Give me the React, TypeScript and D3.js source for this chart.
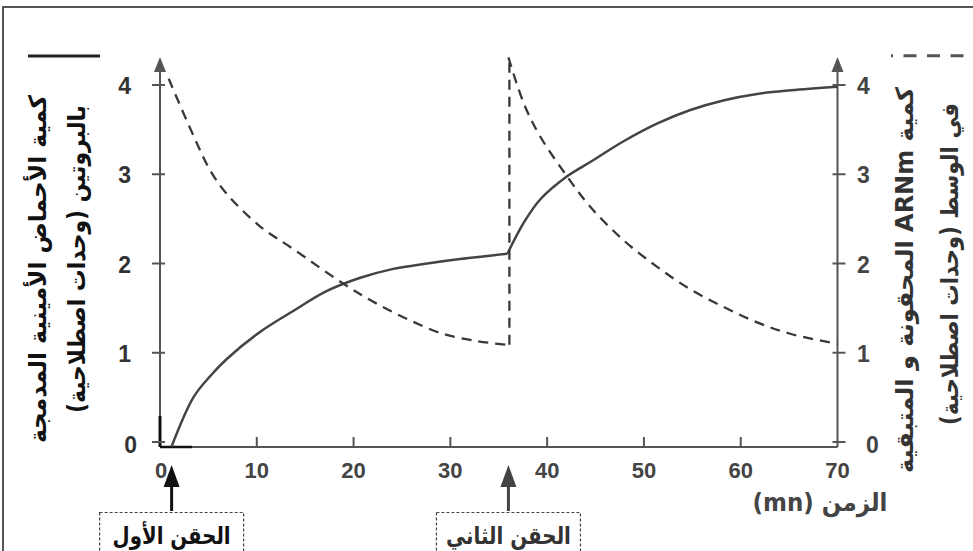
import React from 'react';
import { curveCatmullRom, curveLinear, line, scaleLinear } from 'd3';

// time (mn) -> amount
const proteinFirst: [number, number][] = [
  [1.2, -0.05], [3.45, 0.5], [5.2, 0.74], [6.9, 0.93], [10.3, 1.23], [13.8, 1.47],
  [17.2, 1.69], [20.7, 1.84], [24.1, 1.94], [27.6, 2.0], [31.0, 2.05], [35.9, 2.11],
];
const proteinSecond: [number, number][] = [
  [35.9, 2.11], [37.6, 2.46], [39.3, 2.72], [42.1, 2.98], [44.5, 3.14], [47.9, 3.37],
  [51.4, 3.57], [54.8, 3.72], [58.3, 3.83], [61.7, 3.9], [65.2, 3.94], [70, 3.98],
];
const mrnaFirst: [number, number][] = [
  [0.9, 4.07], [3.3, 3.47], [5.2, 3.04], [6.9, 2.78], [10.3, 2.42], [13.8, 2.16],
  [19.0, 1.77], [22.4, 1.55], [25.9, 1.36], [29.3, 1.21], [32.8, 1.13], [35.7, 1.09],
];
const mrnaJump: [number, number][] = [[36.1, 1.09], [36.1, 4.31]];
const mrnaSecond: [number, number][] = [
  [36.0, 4.31], [37.6, 3.79], [39.3, 3.42], [42.1, 2.97], [44.5, 2.63], [47.9, 2.26],
  [51.4, 1.96], [54.8, 1.71], [58.3, 1.51], [61.7, 1.34], [65.2, 1.21], [70, 1.1],
];

const timeTicks = [0, 10, 20, 30, 40, 50, 60, 70];
const amountTicks = [0, 1, 2, 3, 4];
const injections = [
  { t: 1.2, label: 'الحقن الأول', width: 118 },
  { t: 36, label: 'الحقن الثاني', width: 125 },
];

const leftTitle = ['كمية الأحماض الأمينية المدمجة', 'بالبروتين (وحدات اصطلاحية)'];
const rightTitle = ['كمية ARNm المحقونة و المتبقية', 'في الوسط  (وحدات اصطلاحية)'];
const timeTitle = 'الزمن (mn)';

const W = 973;
const H = 551;
const AXIS = '#555';
const NUM_FONT = "'Liberation Sans', Arial, sans-serif";
const AR_FONT = "'DejaVu Sans', 'Liberation Sans', sans-serif";

export default function App() {
  const x = scaleLinear().domain([0, 70]).range([160, 837.5]);
  const y = scaleLinear().domain([0, 4]).range([442, 85]);
  const baseY = y(0) + 5;
  const topY = 57;

  const smooth = line<[number, number]>()
    .x(d => x(d[0]))
    .y(d => y(d[1]))
    .curve(curveCatmullRom.alpha(0.5));
  const straight = line<[number, number]>()
    .x(d => x(d[0]))
    .y(d => y(d[1]))
    .curve(curveLinear);

  const x0 = x(0);
  const x70 = x(70);

  return (
    <svg
      width={W}
      height={H}
      style={{ position: 'absolute', left: 0, top: 0, background: '#fff' }}
    >
      {/* frame */}
      <rect x={3} y={7} width={1000} height={600} fill="none" stroke={AXIS} strokeWidth={2} />

      {/* legend keys */}
      <line x1={28} x2={100} y1={56} y2={56} stroke="#222" strokeWidth={3} />
      <line
        x1={891}
        x2={973}
        y1={55.7}
        y2={55.7}
        stroke={AXIS}
        strokeWidth={3}
        strokeDasharray="13,10.5"
        strokeDashoffset={11}
      />

      {/* axes */}
      <line x1={x0} x2={x0} y1={topY + 8} y2={baseY} stroke={AXIS} strokeWidth={2} />
      <polygon points={`${x0},${topY} ${x0 - 6},${topY + 15} ${x0 + 6},${topY + 15}`} fill={AXIS} />
      <line x1={x70} x2={x70} y1={topY + 8} y2={baseY} stroke={AXIS} strokeWidth={2} />
      <polygon points={`${x70},${topY} ${x70 - 6},${topY + 15} ${x70 + 6},${topY + 15}`} fill={AXIS} />
      <line x1={x0} x2={x70} y1={baseY} y2={baseY} stroke={AXIS} strokeWidth={2} />
      <line x1={x0} x2={x0} y1={416} y2={baseY} stroke="#111" strokeWidth={3} />
      <line x1={x0} x2={x0 + 32} y1={baseY} y2={baseY} stroke="#111" strokeWidth={2.5} />

      {timeTicks.map(t => (
        <g key={`t${t}`}>
          {t > 0 && t < 70 && (
            <line x1={x(t)} x2={x(t)} y1={baseY - 10} y2={baseY} stroke={AXIS} strokeWidth={2} />
          )}
          <text
            x={x(t) + (t === 0 ? 1 : 0)}
            y={470}
            textAnchor="middle"
            dominantBaseline="central"
            fontFamily={NUM_FONT}
            fontWeight="bold"
            fontSize={22}
            fill="#444"
          >
            {t}
          </text>
        </g>
      ))}

      {amountTicks.map(v => (
        <g key={`a${v}`}>
          <line x1={x0 - 8} x2={x0 + 5} y1={y(v)} y2={y(v)} stroke={AXIS} strokeWidth={2} />
          <line x1={x70 - 5} x2={x70 + 8} y1={y(v)} y2={y(v)} stroke={AXIS} strokeWidth={2} />
          <text
            x={v === 0 ? 137 : 131}
            y={y(v) + (v === 0 ? 3 : 1)}
            textAnchor="end"
            dominantBaseline="central"
            fontFamily={NUM_FONT}
            fontWeight="bold"
            fontSize={23}
            fill="#333"
          >
            {v}
          </text>
          <text
            x={v === 0 ? 866 : 857}
            y={y(v) + (v === 0 ? 3 : 1)}
            textAnchor="start"
            dominantBaseline="central"
            fontFamily={NUM_FONT}
            fontWeight="bold"
            fontSize={23}
            fill="#444"
          >
            {v}
          </text>
        </g>
      ))}

      {/* curves */}
      <path d={smooth(proteinFirst) ?? ''} fill="none" stroke="#444" strokeWidth={2.5} />
      <path d={smooth(proteinSecond) ?? ''} fill="none" stroke="#444" strokeWidth={2.5} />
      <g fill="none" stroke="#383838" strokeWidth={2.3} strokeDasharray="10,7">
        <path d={smooth(mrnaFirst) ?? ''} />
        <path d={straight(mrnaJump) ?? ''} />
        <path d={smooth(mrnaSecond) ?? ''} />
      </g>

      {/* titles */}
      {leftTitle.map((s, i) => (
        <text
          key={`l${i}`}
          transform={`translate(${i === 0 ? 38 : 77},${i === 0 ? 269 : 259}) rotate(-90)`}
          direction="rtl"
          textAnchor="middle"
          dominantBaseline="central"
          fontFamily={AR_FONT}
          fontWeight="bold"
          fontSize={24}
          fill="#111"
          textLength={i === 0 ? 348 : 308}
          lengthAdjust="spacingAndGlyphs"
        >
          {s}
        </text>
      ))}
      {rightTitle.map((s, i) => (
        <text
          key={`r${i}`}
          transform={`translate(${i === 0 ? 905 : 950},${i === 0 ? 280 : 264}) rotate(-90)`}
          direction="rtl"
          textAnchor="middle"
          dominantBaseline="central"
          fontFamily={AR_FONT}
          fontWeight="bold"
          fontSize={24}
          fill="#333"
          textLength={i === 0 ? 386 : 322}
          lengthAdjust="spacingAndGlyphs"
        >
          {s}
        </text>
      ))}
      <text
        x={820}
        y={502}
        direction="rtl"
        textAnchor="middle"
        dominantBaseline="central"
        fontFamily={AR_FONT}
        fontWeight="bold"
        fontSize={25}
        fill="#444"
        textLength={135}
        lengthAdjust="spacingAndGlyphs"
      >
        {timeTitle}
      </text>

      {/* injections */}
      {injections.map((inj, i) => {
        const cx = x(inj.t);
        return (
          <g key={`inj${i}`}>
            <line x1={cx} x2={cx} y1={484} y2={511} stroke={i === 0 ? '#111' : '#444'} strokeWidth={3} />
            <polygon
              points={`${cx},465 ${cx - 8},487 ${cx + 8},487`}
              fill={i === 0 ? '#111' : '#444'}
            />
            <rect
              x={cx - 72}
              y={512.5}
              width={144}
              height={60}
              fill="none"
              stroke="#444"
              strokeWidth={1.2}
              strokeDasharray="3,2"
            />
            <text
              x={cx}
              y={536}
              direction="rtl"
              textAnchor="middle"
              dominantBaseline="central"
              fontFamily={AR_FONT}
              fontWeight="bold"
              fontSize={24}
              fill={i === 0 ? '#111' : '#333'}
              textLength={inj.width}
              lengthAdjust="spacingAndGlyphs"
            >
              {inj.label}
            </text>
          </g>
        );
      })}
    </svg>
  );
}
